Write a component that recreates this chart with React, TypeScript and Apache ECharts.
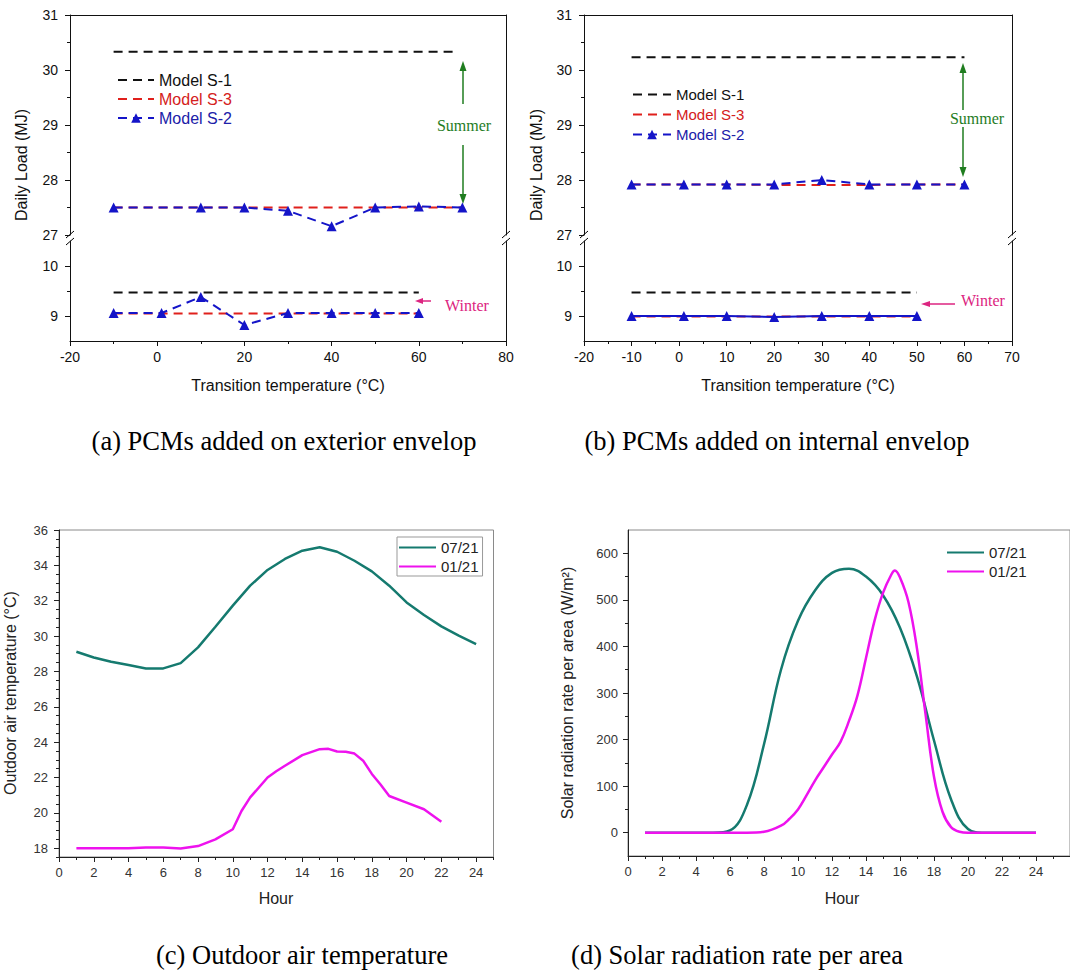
import React, { useEffect, useRef } from "react";
import * as echarts from "echarts";

// ---------- DATA ----------
// (a) PCMs on exterior envelope
const aSummerX = [-10, 10, 20, 30, 40, 50, 60, 70];
const aSummerS1X = [-10, 68];
const aSummerS1 = [30.33, 30.33];
const aSummerS3 = [27.5, 27.5, 27.5, 27.5, 27.5, 27.5, 27.5, 27.5];
const aSummerS2 = [27.5, 27.5, 27.5, 27.44, 27.16, 27.5, 27.52, 27.5];
const aWinterX = [-10, 1, 10, 20, 30, 40, 50, 60];
const aWinterS1 = [9.47, 9.47, 9.47, 9.47, 9.47, 9.47, 9.47, 9.47];
const aWinterS3 = [9.05, 9.05, 9.05, 9.05, 9.05, 9.05, 9.05, 9.05];
const aWinterS2 = [9.06, 9.06, 9.38, 8.82, 9.06, 9.06, 9.06, 9.06];

// (b) PCMs on internal envelope
const bSummerX = [-10, 1, 10, 20, 30, 40, 50, 60];
const bSummerS1 = [30.23, 30.23, 30.23, 30.23, 30.23, 30.23, 30.23, 30.23];
const bSummerS3 = [27.92, 27.92, 27.92, 27.91, 27.91, 27.91, 27.92, 27.92];
const bSummerS2 = [27.92, 27.92, 27.92, 27.92, 28.0, 27.92, 27.92, 27.92];
const bWinterX = [-10, 1, 10, 20, 30, 40, 50];
const bWinterS1 = [9.47, 9.47, 9.47, 9.47, 9.47, 9.47, 9.47];
const bWinterS3 = [8.99, 8.99, 8.99, 8.99, 8.99, 8.99, 8.99];
const bWinterS2 = [9.0, 9.0, 9.0, 8.98, 9.0, 9.0, 9.0];

// (c) Outdoor air temperature
const hoursJul = [1, 2, 3, 4, 5, 6, 7, 8, 9, 10, 11, 12, 13, 14, 15, 16, 17, 18, 19, 20, 21, 22, 23, 24];
const tempJul = [29.11, 28.79, 28.55, 28.36, 28.17, 28.17, 28.47, 29.36, 30.53, 31.72, 32.85, 33.74, 34.36, 34.83, 35.02, 34.77, 34.26, 33.66, 32.85, 31.9, 31.19, 30.55, 30.02, 29.55];
const hoursJan = [1, 2, 3, 4, 5, 6, 7, 8, 9, 10, 10.5, 11, 12, 12.5, 13, 14, 15, 15.5, 16, 16.5, 17, 17.5, 18, 18.5, 19, 20, 21, 22];
const tempJan = [18.0, 18.0, 18.0, 18.0, 18.04, 18.04, 17.98, 18.12, 18.5, 19.07, 20.1, 20.87, 22.0, 22.35, 22.66, 23.26, 23.6, 23.62, 23.47, 23.45, 23.35, 22.95, 22.2, 21.6, 20.95, 20.58, 20.2, 19.49];

// (d) Solar radiation rate per area
const solarJul = [0, 0, 0, 0, 0, 5, 60, 190, 350, 455, 520, 558, 567, 550, 510, 440, 335, 198, 72, 8, 0, 0, 0, 0];
const hoursSolarJan = [1, 2, 3, 4, 5, 6, 7, 8, 9, 9.5, 10, 10.5, 11, 11.5, 12, 12.5, 13, 13.5, 14, 14.5, 15, 15.5, 15.7, 16, 16.5, 17, 17.5, 18, 18.5, 19, 19.5, 20, 21, 22, 23, 24];
const solarJan = [0, 0, 0, 0, 0, 0, 0, 2, 15, 30, 50, 80, 112, 140, 168, 195, 240, 295, 375, 455, 515, 555, 563, 548, 495, 395, 255, 120, 45, 12, 2, 0, 0, 0, 0, 0];

// ---------- TICKS ----------
const aXLabels = [-20, 0, 20, 40, 60, 80];
const bXLabels = [-20, -10, 0, 10, 20, 30, 40, 50, 60, 70];
const upperYLabels = [27, 28, 29, 30, 31];
const lowerYLabels = [9, 10];
const hourLabels = [0, 2, 4, 6, 8, 10, 12, 14, 16, 18, 20, 22, 24];
const tempYLabels = [18, 20, 22, 24, 26, 28, 30, 32, 34, 36];
const solarYLabels = [0, 100, 200, 300, 400, 500, 600];

const SANS = "Liberation Sans, Arial, sans-serif";
const SERIF = "Liberation Serif, Times New Roman, serif";

const C_BLACK = "#111111";
const C_RED = "#e0201c";
const C_BLUE = "#1414c8";
const C_TEAL = "#157a6f";
const C_MAG = "#ee12ee";
const C_GREEN = "#1f7d1f";
const C_PINK = "#dc2480";

function range(a: number, b: number, step: number, skip: number[]) {
  const out: number[] = [];
  for (let v = a; v <= b + 1e-9; v += step) {
    const r = Math.round(v * 100) / 100;
    if (!skip.includes(r)) out.push(r);
  }
  return out;
}

function pairs(xs: number[], ys: number[]) {
  return xs.map((x, i) => [x, ys[i]]);
}

function buildOption() {
  const grid: any[] = [];
  const xAxis: any[] = [];
  const yAxis: any[] = [];
  const series: any[] = [];

  const base = (gi: number, min: number, max: number, position: string) => ({
    type: "value",
    gridIndex: gi,
    min,
    max,
    position,
    axisLine: { show: false, onZero: false },
    axisTick: { show: false },
    axisLabel: { show: false },
    splitLine: { show: false },
  });
  const lineOnly = (gi: number, min: number, max: number, position: string, color: string) => ({
    ...base(gi, min, max, position),
    axisLine: { show: true, onZero: false, lineStyle: { color, width: 1 } },
  });
  const labeled = (
    gi: number, min: number, max: number, position: string, labels: number[],
    lineColor: string, labelColor: string, fontSize: number, margin: number
  ) => ({
    ...base(gi, min, max, position),
    axisLine: { show: true, onZero: false, lineStyle: { color: lineColor, width: 1 } },
    axisTick: { show: true, customValues: labels, length: 5, lineStyle: { color: lineColor } },
    axisLabel: { show: true, customValues: labels, fontSize, color: labelColor, fontFamily: SANS, margin },
  });
  const minor = (gi: number, min: number, max: number, position: string, ticks: number[], color: string) => ({
    ...base(gi, min, max, position),
    axisTick: { show: true, customValues: ticks, length: 3, lineStyle: { color } },
  });
  const addX = (a: any) => { xAxis.push(a); return xAxis.length - 1; };
  const addY = (a: any) => { yAxis.push(a); return yAxis.length - 1; };

  const lineSeries = (name: string, xi: number, yi: number, data: number[][], color: string, dashed: boolean, marker: boolean, width = 2) => {
    series.push({
      type: "line",
      name,
      xAxisIndex: xi,
      yAxisIndex: yi,
      data,
      symbol: marker ? "triangle" : "none",
      symbolSize: 10,
      showSymbol: marker,
      itemStyle: { color },
      lineStyle: { color, width, type: dashed ? [9, 6] : "solid" },
      silent: true,
    });
  };

  // ---------- Panels (a) and (b): broken y axis ----------
  const panels = [
    {
      left: 70, width: 436, xmin: -20, xmax: 80, xLabels: aXLabels,
      xMinor: range(-20, 80, 10, aXLabels),
      summer: { x: aSummerX, s1x: aSummerS1X, s1: aSummerS1, s3: aSummerS3, s2: aSummerS2 },
      winter: { x: aWinterX, s1: aWinterS1, s3: aWinterS3, s2: aWinterS2, s2dashed: true },
    },
    {
      left: 584, width: 428, xmin: -20, xmax: 70, xLabels: bXLabels,
      xMinor: range(-15, 65, 10, []),
      summer: { x: bSummerX, s1x: bSummerX, s1: bSummerS1, s3: bSummerS3, s2: bSummerS2 },
      winter: { x: bWinterX, s1: bWinterS1, s3: bWinterS3, s2: bWinterS2, s2dashed: false },
    },
  ];

  panels.forEach((p) => {
    const gUp = grid.push({ left: p.left, top: 15, width: p.width, height: 220 }) - 1;
    const gLo = grid.push({ left: p.left, top: 241, width: p.width, height: 100 }) - 1;

    // upper
    const xUp = addX(lineOnly(gUp, p.xmin, p.xmax, "top", C_BLACK));
    const yUp = addY(labeled(gUp, 27, 31, "left", upperYLabels, C_BLACK, C_BLACK, 14, 12));
    addY(minor(gUp, 27, 31, "left", [27.5, 28.5, 29.5, 30.5], C_BLACK));
    addY(lineOnly(gUp, 27, 31, "right", C_BLACK));

    // lower
    const xLo = addX(labeled(gLo, p.xmin, p.xmax, "bottom", p.xLabels, C_BLACK, C_BLACK, 14, 9));
    addX(minor(gLo, p.xmin, p.xmax, "bottom", p.xMinor, C_BLACK));
    const yLo = addY(labeled(gLo, 8.5, 10.5, "left", lowerYLabels, C_BLACK, C_BLACK, 14, 12));
    addY(minor(gLo, 8.5, 10.5, "left", [9.5], C_BLACK));
    addY(lineOnly(gLo, 8.5, 10.5, "right", C_BLACK));

    const s = p.summer;
    lineSeries("Model S-1", xUp, yUp, pairs(s.s1x, s.s1), C_BLACK, true, false);
    lineSeries("Model S-3", xUp, yUp, pairs(s.x, s.s3), C_RED, true, false);
    lineSeries("Model S-2", xUp, yUp, pairs(s.x, s.s2), C_BLUE, true, true);

    const w = p.winter;
    lineSeries("Model S-1", xLo, yLo, pairs(w.x, w.s1), C_BLACK, true, false);
    lineSeries("Model S-3", xLo, yLo, pairs(w.x, w.s3), C_RED, true, false);
    lineSeries("Model S-2", xLo, yLo, pairs(w.x, w.s2), C_BLUE, w.s2dashed, true);
  });

  // ---------- Panel (c) ----------
  const gC = grid.push({ left: 59, top: 530, width: 434.5, height: 327, show: true, borderColor: "#8a8a8a", borderWidth: 1 }) - 1;
  const xC = addX(labeled(gC, 0, 25, "bottom", hourLabels, "#222", "#333", 13, 9));
  addX(minor(gC, 0, 25, "bottom", range(1, 25, 2, []), "#222"));
  const yC = addY(labeled(gC, 17.5, 36, "left", tempYLabels, "#222", "#333", 13, 11));
  addY(minor(gC, 17.5, 36, "left", range(17.5, 36, 0.5, tempYLabels), "#222"));
  series.push({
    type: "line", name: "07/21", xAxisIndex: xC, yAxisIndex: yC, data: pairs(hoursJul, tempJul),
    symbol: "none", lineStyle: { color: C_TEAL, width: 2.5 }, itemStyle: { color: C_TEAL }, silent: true,
  });
  series.push({
    type: "line", name: "01/21", xAxisIndex: xC, yAxisIndex: yC, data: pairs(hoursJan, tempJan),
    symbol: "none", lineStyle: { color: C_MAG, width: 2.5 }, itemStyle: { color: C_MAG }, silent: true,
  });

  // ---------- Panel (d) ----------
  const gD = grid.push({ left: 628, top: 530, width: 444, height: 326, show: true, borderColor: "#8a8a8a", borderWidth: 1 }) - 1;
  const xD = addX(labeled(gD, 0, 26, "bottom", hourLabels, "#222", "#333", 13, 9));
  addX(minor(gD, 0, 26, "bottom", range(1, 25, 2, []), "#222"));
  const yD = addY(labeled(gD, -50, 650, "left", solarYLabels, "#222", "#333", 13, 10));
  addY(minor(gD, -50, 650, "left", range(50, 550, 100, []), "#222"));
  series.push({
    type: "line", name: "07/21", xAxisIndex: xD, yAxisIndex: yD, data: pairs(hoursJul, solarJul),
    symbol: "none", smooth: 0.4, lineStyle: { color: C_TEAL, width: 2.5 }, itemStyle: { color: C_TEAL }, silent: true,
  });
  series.push({
    type: "line", name: "01/21", xAxisIndex: xD, yAxisIndex: yD, data: pairs(hoursSolarJan, solarJan),
    symbol: "none", smooth: 0.4, lineStyle: { color: C_MAG, width: 2.5 }, itemStyle: { color: C_MAG }, silent: true,
  });

  // ---------- Legends ----------
  const hidden = { opacity: 0 };
  const modelLegend = (left: number, top: number, fontSize: number, itemWidth: number, itemGap: number) => ({
    orient: "vertical", left, top, itemWidth, itemHeight: 12, itemGap, padding: 0,
    selectedMode: false,
    textStyle: { fontSize, fontFamily: SANS },
    data: [
      { name: "Model S-1", itemStyle: hidden, textStyle: { color: C_BLACK } },
      { name: "Model S-3", itemStyle: hidden, textStyle: { color: "#d42020" } },
      { name: "Model S-2", textStyle: { color: "#2020a8" } },
    ],
  });
  const dateLegend = (left: number, top: number, border: boolean) => ({
    orient: "vertical", left, top, itemWidth: 37, itemHeight: 12, itemGap: 4,
    padding: border ? [3, 4, 2, 1] : 0,
    borderColor: border ? "#999" : "transparent", borderWidth: border ? 1 : 0,
    selectedMode: false,
    textStyle: { fontSize: 15, fontFamily: SANS, color: "#222" },
    data: [
      { name: "07/21", itemStyle: hidden },
      { name: "01/21", itemStyle: hidden },
    ],
  });

  const legend = [
    modelLegend(117, 72, 16, 36, 3),
    modelLegend(632, 87, 15, 38, 5),
    dateLegend(397, 537, true),
    dateLegend(946, 545, false),
  ];

  // ---------- Graphic annotations ----------
  const g: any[] = [];
  const txt = (x: number, y: number, text: string, fontSize: number, fill: string, family: string, rotate = false) => ({
    type: "text", x, y, rotation: rotate ? Math.PI / 2 : 0, silent: true,
    style: { text, fontSize, fill, fontFamily: family, align: "center", verticalAlign: "middle" },
  });
  const seg = (x1: number, y1: number, x2: number, y2: number, stroke: string, w = 1) => ({
    type: "line", silent: true, shape: { x1, y1, x2, y2 }, style: { stroke, lineWidth: w },
  });
  const head = (pts: number[][], fill: string) => ({ type: "polygon", silent: true, shape: { points: pts }, style: { fill } });

  // break marks
  [70, 506, 584, 1012].forEach((x) => {
    g.push({ type: "rect", silent: true, shape: { x: x - 2, y: 235.5, width: 4, height: 5 }, style: { fill: "#fff" } });
    g.push(seg(x - 4, 238, x + 4, 231, "#000"));
    g.push(seg(x - 4, 245, x + 4, 238, "#000"));
  });

  // (a) annotations
  g.push(seg(463, 68, 463, 104, C_GREEN, 1.5));
  g.push(head([[463, 61], [459.5, 71], [466.5, 71]], C_GREEN));
  g.push(txt(464, 125, "Summer", 16, C_GREEN, SERIF));
  g.push(seg(463, 145, 463, 197, C_GREEN, 1.5));
  g.push(head([[463, 204], [459.5, 194], [466.5, 194]], C_GREEN));
  g.push(seg(420, 301, 431, 301, C_PINK, 1.5));
  g.push(head([[415, 301], [423, 298], [423, 304]], C_PINK));
  g.push(txt(467, 305, "Winter", 16, C_PINK, SERIF));

  // (b) annotations
  g.push(seg(963, 70, 963, 110, C_GREEN, 1.5));
  g.push(head([[963, 63], [959.5, 73], [966.5, 73]], C_GREEN));
  g.push(txt(977, 118, "Summer", 16, C_GREEN, SERIF));
  g.push(seg(963, 127, 963, 170, C_GREEN, 1.5));
  g.push(head([[963, 177], [959.5, 167], [966.5, 167]], C_GREEN));
  g.push(seg(928, 304, 955, 304, C_PINK, 1.5));
  g.push(head([[921, 304], [930, 301], [930, 307]], C_PINK));
  g.push(txt(983, 300, "Winter", 16, C_PINK, SERIF));

  // axis names
  g.push(txt(21, 165, "Daily Load (MJ)", 16, C_BLACK, SANS, true));
  g.push(txt(536, 165, "Daily Load (MJ)", 16, C_BLACK, SANS, true));
  g.push(txt(288, 385, "Transition temperature (°C)", 16, C_BLACK, SANS));
  g.push(txt(798, 385, "Transition temperature (°C)", 16, C_BLACK, SANS));
  g.push(txt(10, 693, "Outdoor air temperature (°C)", 16, "#222", SANS, true));
  g.push(txt(276, 898, "Hour", 16, "#222", SANS));
  g.push(txt(567, 693, "Solar radiation rate per area (W/m²)", 16, "#222", SANS, true));
  g.push(txt(842, 898, "Hour", 16, "#222", SANS));

  // captions
  g.push(txt(284, 441, "(a) PCMs added on exterior envelop", 26.5, "#000", SERIF));
  g.push(txt(777, 441, "(b) PCMs added on internal envelop", 26.5, "#000", SERIF));
  g.push(txt(302, 955, "(c) Outdoor air temperature", 26.5, "#000", SERIF));
  g.push(txt(737, 955, "(d) Solar radiation rate per area", 26.5, "#000", SERIF));

  return {
    animation: false,
    backgroundColor: "#ffffff",
    textStyle: { fontFamily: SANS },
    grid,
    xAxis,
    yAxis,
    legend,
    series,
    graphic: g,
  };
}

export default function App() {
  const ref = useRef<HTMLDivElement>(null);
  useEffect(() => {
    if (!ref.current) return;
    const chart = echarts.init(ref.current, undefined, { renderer: "svg" });
    chart.setOption(buildOption() as any);
    return () => chart.dispose();
  }, []);
  return (
    <div
      ref={ref}
      style={{ position: "absolute", left: 0, top: 0, width: 1070, height: 972, background: "#fff", overflow: "hidden" }}
    />
  );
}
